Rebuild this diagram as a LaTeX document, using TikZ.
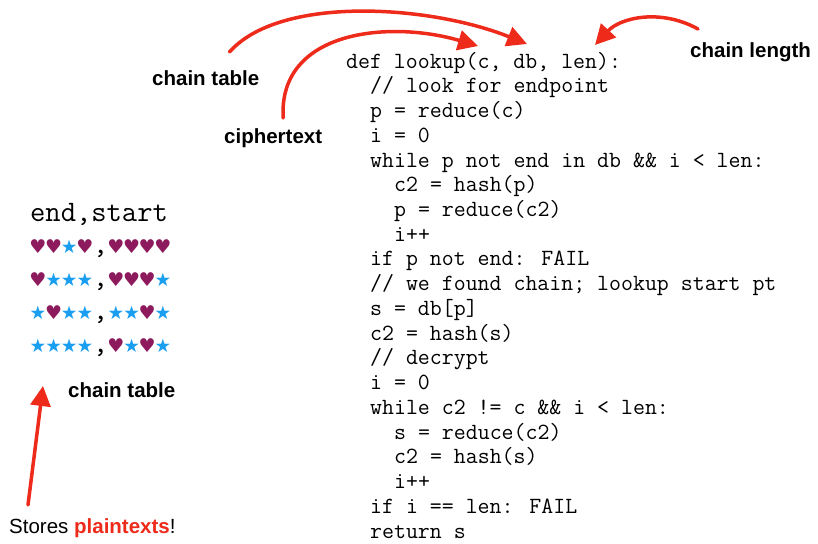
\documentclass[tikz,border=0pt]{standalone}
\usepackage{fontspec}
\setmainfont{Liberation Sans}
\newfontfamily\symfont{DejaVu Sans}
\usetikzlibrary{arrows.meta}

\definecolor{inkred}{HTML}{EE2A1B}
\definecolor{heartc}{HTML}{8C1A5C}
\definecolor{starc}{HTML}{1A9EF0}

% one cell of the chain table, same pitch as the mono font
\newcommand{\hrtsym}{\makebox[15.6pt]{\symfont\fontsize{19}{19}\selectfont\color{heartc}♥}}
\newcommand{\starsym}{\makebox[15.6pt]{\symfont\fontsize{18.5}{18.5}\selectfont\color{starc}★}}
\newcommand{\sepsym}{\makebox[15.6pt]{,}}

\begin{document}
\begin{tikzpicture}[
    x=1pt, y=-1pt,
    code/.style={anchor=base west, inner sep=0pt, font=\ttfamily\fontsize{23.2}{27}\selectfont},
    row/.style={anchor=base west, inner sep=0pt, font=\ttfamily\fontsize{29.7}{34}\selectfont},
    lbl/.style={anchor=base west, inner sep=0pt, font=\bfseries\fontsize{20.5}{24}\selectfont},
    arr/.style={draw=inkred, line width=3.5pt, line cap=round, -{Triangle[length=20pt,width=20pt]}}
]
\useasboundingbox (0,0) rectangle (818,543);

% chain table
\node[row] (head) at (30,221) {end,start};
\node[row] (r1) at (30,253) {\hrtsym\hrtsym\starsym\hrtsym\sepsym\hrtsym\hrtsym\hrtsym\hrtsym};
\node[row] (r2) at (30,286) {\hrtsym\starsym\starsym\starsym\sepsym\hrtsym\hrtsym\hrtsym\starsym};
\node[row] (r3) at (30,319) {\starsym\hrtsym\starsym\starsym\sepsym\starsym\starsym\hrtsym\starsym};
\node[row] (r4) at (30,352) {\starsym\starsym\starsym\starsym\sepsym\hrtsym\starsym\hrtsym\starsym};

% lookup routine
\node[code] (l0)  at (346,68)    {def lookup(c, db, len):};
\node[code] (l1)  at (370,92.7)  {// look for endpoint};
\node[code] (l2)  at (370,117.5) {p = reduce(c)};
\node[code] (l3)  at (370,142.2) {i = 0};
\node[code] (l4)  at (370,167)   {while p not end in db \&\& i < len:};
\node[code] (l5)  at (394,191.7) {c2 = hash(p)};
\node[code] (l6)  at (394,216.4) {p = reduce(c2)};
\node[code] (l7)  at (394,241.2) {i++};
\node[code] (l8)  at (370,265.9) {if p not end: FAIL};
\node[code] (l9)  at (370,290.7) {// we found chain; lookup start pt};
\node[code] (l10) at (370,315.4) {s = db[p]};
\node[code] (l11) at (370,340.1) {c2 = hash(s)};
\node[code] (l12) at (370,364.9) {// decrypt};
\node[code] (l13) at (370,389.6) {i = 0};
\node[code] (l14) at (370,414.4) {while c2 != c \&\& i < len:};
\node[code] (l15) at (394,439.1) {s = reduce(c2)};
\node[code] (l16) at (394,463.8) {c2 = hash(s)};
\node[code] (l17) at (394,488.6) {i++};
\node[code] (l18) at (370,513.3) {if i == len: FAIL};
\node[code] (l19) at (370,538)   {return s};

% annotations
\node[lbl] (tblTop)   at (152,85)  {chain table};
\node[lbl] (cipher)   at (224,143) {ciphertext};
\node[lbl] (chainLen) at (690,58)  {chain length};
\node[lbl] (tblLow)   at (68,397)  {chain table};
\node[anchor=base west, inner sep=0pt, font=\fontsize{20.5}{24}\selectfont] (stores) at (9,533)
    {Stores \textcolor{inkred}{\bfseries plaintexts}!};

\coordinate (dbArg)   at (527,44);
\coordinate (cArg)    at (478,46);
\coordinate (lenArg)  at (595,45);
\coordinate (tblHead) at (43,386);

\draw[arr] ([xshift=-30pt,yshift=33pt]tblTop.base east) .. controls (280,-5) and (430,5) .. (dbArg);
\draw[arr] ([xshift=10pt,yshift=25pt]cipher.base) .. controls (278,30) and (390,20) .. (cArg);
\draw[arr] ([xshift=8pt,yshift=29pt]chainLen.base west) .. controls (660,8) and (620,18) .. (lenArg);
\draw[arr] ([xshift=19pt,yshift=28pt]stores.base west) -- (tblHead);
\end{tikzpicture}
\end{document}
